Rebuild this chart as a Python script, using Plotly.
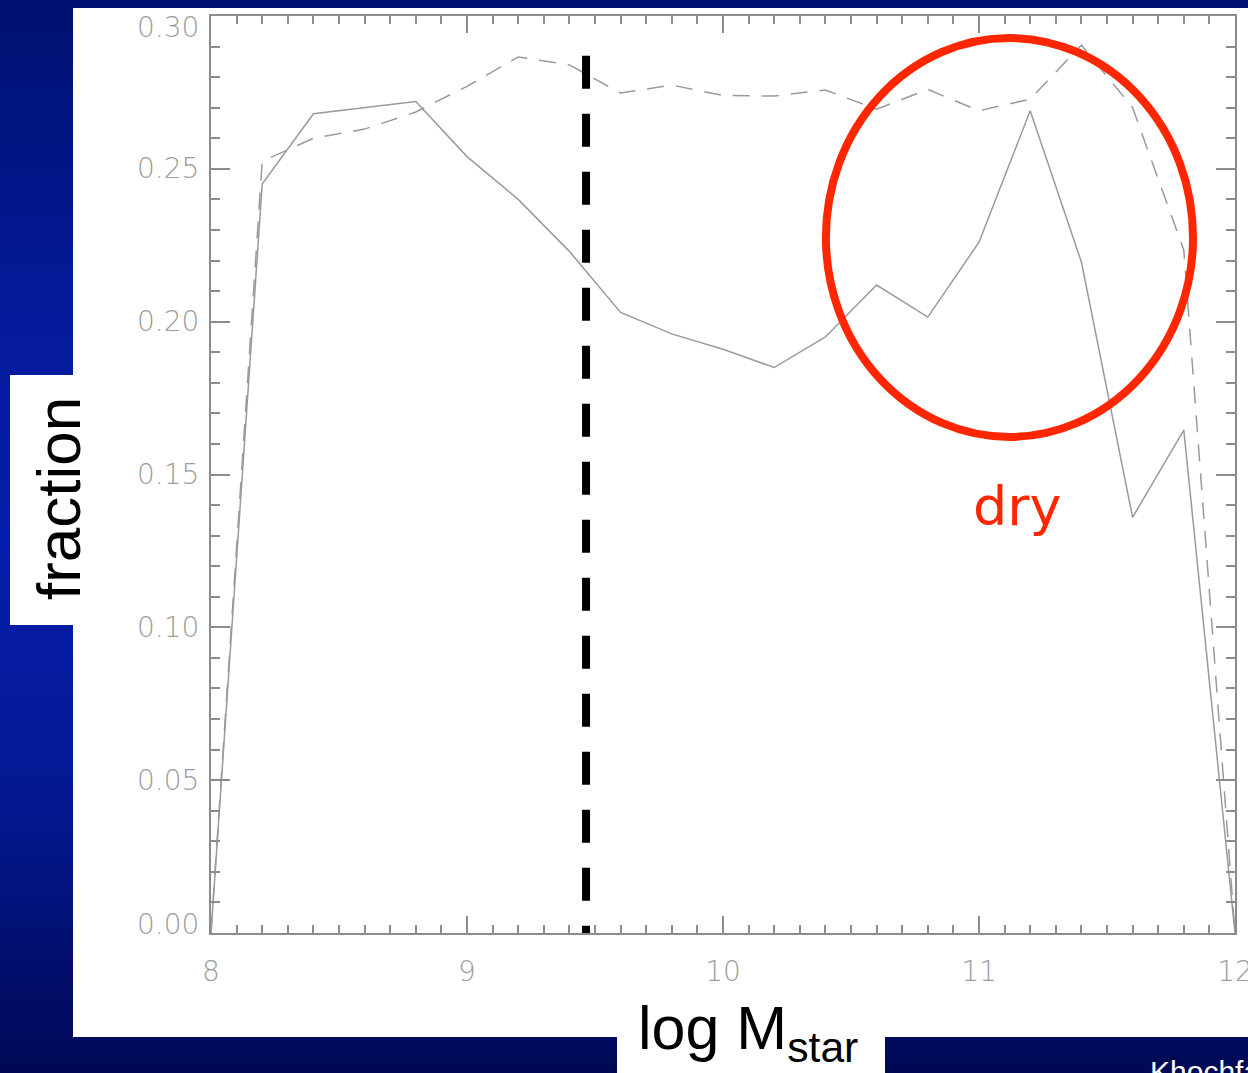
import plotly.graph_objects as go

# Stellar mass bins (log M_star) and merger fractions
log_mass = [8.0, 8.2, 8.4, 8.6, 8.8, 9.0, 9.2, 9.4, 9.6, 9.8, 10.0,
            10.2, 10.4, 10.6, 10.8, 11.0, 11.2, 11.4, 11.6, 11.8, 12.0]
frac_solid = [0.0, 0.245, 0.268, 0.270, 0.272, 0.254, 0.240, 0.223, 0.203, 0.196, 0.191,
              0.185, 0.195, 0.212, 0.2015, 0.226, 0.269, 0.2195, 0.136, 0.1645, 0.0]
frac_dashed = [0.0, 0.2525, 0.260, 0.263, 0.2686, 0.277, 0.2866, 0.284, 0.2748, 0.2774, 0.274,
               0.2738, 0.2758, 0.2695, 0.276, 0.269, 0.2728, 0.2905, 0.270, 0.2234, 0.0]

# Mass threshold marker and highlighted "dry" region
threshold_mass = 9.465
threshold_top = 0.287
dry_x = [10.402, 11.836]
dry_y = [0.1623, 0.2928]
dry_label_pos = (11.148, 0.1395)

x_ticks = [8, 9, 10, 11, 12]
y_ticks = [0.0, 0.05, 0.10, 0.15, 0.20, 0.25, 0.30]

W, H = 1248, 1073
L, R, T, B = 211, 13, 16, 140
pw, ph = W - L - R, H - T - B


def px(xp):
    return (xp - L) / pw


def py(yp):
    return (H - B - yp) / ph


AXIS_GRAY = "#8c8c8c"
LINE_GRAY = "#9a9a9a"
LABEL_GRAY = "#9c9c9c"
RED = "rgb(255,38,0)"

fig = go.Figure()

fig.add_trace(go.Scatter(x=log_mass, y=frac_dashed, mode="lines",
                         line=dict(color=LINE_GRAY, width=1.5, dash="17px,12px"),
                         showlegend=False, hoverinfo="skip"))
fig.add_trace(go.Scatter(x=log_mass, y=frac_solid, mode="lines",
                         line=dict(color=LINE_GRAY, width=1.5),
                         showlegend=False, hoverinfo="skip"))
fig.add_trace(go.Scatter(x=[threshold_mass, threshold_mass], y=[threshold_top, 0.0],
                         mode="lines",
                         line=dict(color="black", width=8, dash="33px,25px"),
                         showlegend=False, hoverinfo="skip"))

shapes = []

# blue slide background: vertical gradient
stops = [(0, (0, 16, 112)), (300, (4, 26, 152)), (540, (6, 30, 172)),
         (800, (4, 24, 145)), (1073, (0, 8, 85))]


def grad(yp):
    for (y0, c0), (y1, c1) in zip(stops[:-1], stops[1:]):
        if y0 <= yp <= y1:
            t = (yp - y0) / (y1 - y0)
            return "rgb(%d,%d,%d)" % tuple(round(a + (b - a) * t) for a, b in zip(c0, c1))
    return "rgb(%d,%d,%d)" % stops[-1][1]


step = 12
for y0 in range(0, H, step):
    y1 = min(H, y0 + step)
    shapes.append(dict(type="rect", xref="paper", yref="paper", layer="below",
                       x0=px(0), x1=px(W), y0=py(y1 + 0.5), y1=py(y0),
                       fillcolor=grad(y0 + step / 2), line=dict(width=0)))

# white panels
for (x0, y0, x1, y1) in [(73, 8, W, 1037), (10, 375, 73, 625), (617, 1037, 885, H)]:
    shapes.append(dict(type="rect", xref="paper", yref="paper", layer="below",
                       x0=px(x0), x1=px(x1), y0=py(y1), y1=py(y0),
                       fillcolor="white", line=dict(width=0)))

# highlight ellipse
shapes.append(dict(type="circle", xref="x", yref="y",
                   x0=dry_x[0], x1=dry_x[1], y0=dry_y[0], y1=dry_y[1],
                   line=dict(color=RED, width=8)))

fig.update_layout(shapes=shapes)

tickfont = dict(family="DejaVu Sans", size=28, color=LABEL_GRAY, weight=200)

annotations = [
    dict(text="fraction", xref="paper", yref="paper", x=px(58), y=py(499),
         xanchor="center", yanchor="middle", textangle=-90, showarrow=False,
         font=dict(family="Liberation Sans", size=62, color="black")),
    dict(text="log M<sub>star</sub>", xref="paper", yref="paper", x=px(636), y=py(992),
         xanchor="left", yanchor="top", showarrow=False,
         font=dict(family="Liberation Sans", size=61, color="black")),
    dict(text="dry", xref="x", yref="y", x=dry_label_pos[0], y=dry_label_pos[1],
         xanchor="center", yanchor="middle", showarrow=False,
         font=dict(family="DejaVu Sans", size=54, color=RED)),
    dict(text="Khochfar &amp; Silk", xref="paper", yref="paper", x=px(1148), y=py(1053),
         xanchor="left", yanchor="top", showarrow=False,
         font=dict(family="Liberation Sans", size=30, color="white")),
]

# y tick labels; the end labels sit just inside the frame
for v in y_ticks:
    shift = 0
    if v == y_ticks[-1]:
        shift = -11
    elif v == y_ticks[0]:
        shift = 9
    annotations.append(dict(text="%.2f" % v, xref="paper", yref="y", x=px(201), y=v,
                            xanchor="right", yanchor="middle", yshift=shift,
                            showarrow=False, font=tickfont))

fig.update_layout(annotations=annotations)

fig.update_xaxes(range=[8, 12], tickvals=x_ticks, ticktext=[str(v) for v in x_ticks],
                 ticks="inside", ticklen=17, tickwidth=1.5, tickcolor=AXIS_GRAY,
                 showline=True, linecolor=AXIS_GRAY, linewidth=1.5, mirror="allticks",
                 showgrid=False, zeroline=False, tickfont=tickfont, ticklabelstandoff=13,
                 ticklabeloverflow="allow",
                 minor=dict(dtick=0.1, tick0=8, ticks="inside", ticklen=8,
                            tickwidth=1.5, tickcolor=AXIS_GRAY, showgrid=False))
fig.update_yaxes(range=[0, 0.30], tickvals=y_ticks, showticklabels=False,
                 ticks="inside", ticklen=19, tickwidth=1.5, tickcolor=AXIS_GRAY,
                 showline=True, linecolor=AXIS_GRAY, linewidth=1.5, mirror="allticks",
                 showgrid=False, zeroline=False,
                 minor=dict(dtick=0.01, tick0=0, ticks="inside", ticklen=9,
                            tickwidth=1.5, tickcolor=AXIS_GRAY, showgrid=False))

fig.update_layout(width=W, height=H, margin=dict(l=L, r=R, t=T, b=B, autoexpand=False),
                  paper_bgcolor="rgb(0,8,85)", plot_bgcolor="white", showlegend=False)

fig.write_html("out.html")
